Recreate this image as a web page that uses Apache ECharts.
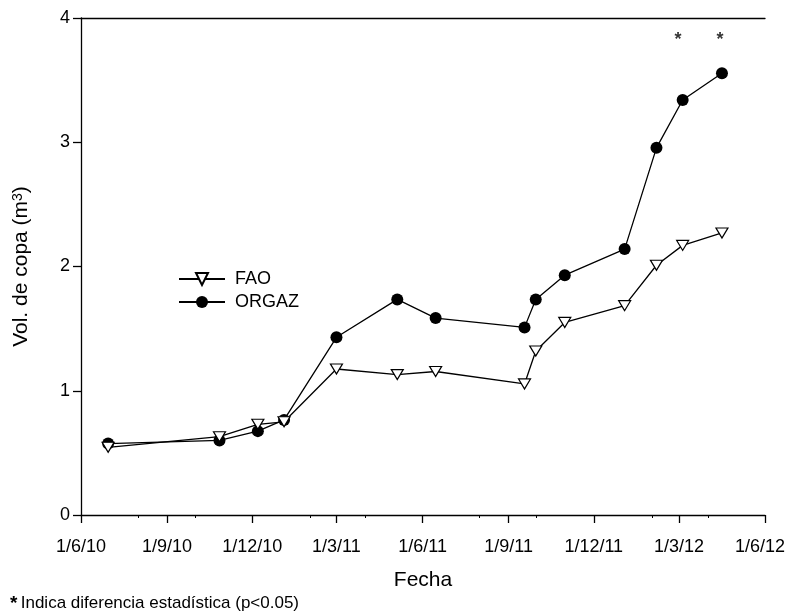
<!DOCTYPE html>
<html>
<head>
<meta charset="utf-8">
<script src="https://cdn.jsdelivr.net/npm/echarts@6/dist/echarts.min.js"></script>
<style>html,body{margin:0;padding:0;background:#fff}#c{width:788px;height:616px}</style>
</head>
<body>
<div id="c"></div>
<script>
// ---- data ----
const dates = ['2010-06-30','2010-10-27','2010-12-07','2011-01-04','2011-03-01','2011-05-05','2011-06-15','2011-09-18','2011-09-30','2011-10-31','2012-01-03','2012-02-06','2012-03-05','2012-04-16'];
const fao   = [0.545,0.63,0.73,0.75,1.175,1.13,1.155,1.055,1.32,1.55,1.685,2.01,2.17,2.27];
const orgaz = [0.575,0.60,0.675,0.765,1.43,1.735,1.585,1.51,1.735,1.93,2.14,2.955,3.34,3.555];
const xTickDates = ['2010-06-01','2010-09-01','2010-12-01','2011-03-01','2011-06-01','2011-09-01','2011-12-01','2012-03-01','2012-06-01'];
const xMinorDates = ['2010-08-01','2010-10-01','2011-02-01','2011-04-01','2011-08-01','2011-10-01','2012-02-01','2012-04-01'];
const yTicks = [0,1,2,3,4];
const sigDates = ['2012-02-29','2012-04-14'];
const sigValues = [3.82,3.82];

const t = s => new Date(s + 'T00:00:00Z').getTime();
const xMin = t(xTickDates[0]), xMax = t(xTickDates[xTickDates.length-1]);
const fmt = v => {
  const d = new Date(v);
  const s = d.getUTCDate() + '/' + (d.getUTCMonth()+1) + '/' + String(d.getUTCFullYear()).slice(2);
  return v === xMax ? '{last|' + s + '}' : s;
};
const FONT = '"Liberation Sans", Arial, sans-serif';

const chart = echarts.init(document.getElementById('c'), null, {renderer:'canvas'});
chart.setOption({
  animation:false,
  backgroundColor:'#fff',
  textStyle:{fontFamily:FONT, color:'#000'},
  grid:{left:81, right:23, top:18, bottom:101, containLabel:false, outerBoundsMode:'none'},
  legend:{
    data:['FAO','ORGAZ'], orient:'vertical', left:178, top:270, padding:0,
    itemWidth:46, itemHeight:15, itemGap:5,
    textStyle:{fontFamily:FONT, fontSize:18, color:'#000', padding:[0,0,0,5]}
  },
  xAxis:[
    {
      type:'value', min:xMin, max:xMax, position:'bottom',
      name:'Fecha', nameLocation:'middle', nameGap:55,
      nameTextStyle:{fontFamily:FONT, fontSize:21, color:'#000'},
      axisLine:{show:true, onZero:false, lineStyle:{color:'#000', width:1.3}},
      axisTick:{show:true, inside:false, length:8, customValues:xTickDates.map(t), lineStyle:{color:'#000', width:1.3}},
      axisLabel:{customValues:xTickDates.map(t), formatter:fmt, margin:23, fontFamily:FONT, fontSize:18, color:'#000',
        rich:{last:{fontFamily:FONT, fontSize:18, color:'#000', padding:[0,10,0,0]}}},
      splitLine:{show:false}
    },
    {
      type:'value', min:xMin, max:xMax, position:'bottom',
      axisLine:{show:false},
      axisTick:{show:true, length:3, customValues:xMinorDates.map(t), lineStyle:{color:'#000', width:1}},
      axisLabel:{show:false}, splitLine:{show:false}
    },
    {
      type:'value', min:xMin, max:xMax, position:'top',
      axisLine:{show:true, lineStyle:{color:'#000', width:1.3}},
      axisTick:{show:false}, axisLabel:{show:false}, splitLine:{show:false}
    }
  ],
  yAxis:{
    type:'value', min:yTicks[0], max:yTicks[yTicks.length-1], interval:1,
    name:'{n|Vol. de copa (m}{s|3}{n|)}', nameLocation:'middle', nameGap:49, nameRotate:90,
    nameTextStyle:{fontFamily:FONT, color:'#000', rich:{
      n:{fontFamily:FONT, fontSize:21, color:'#000'},
      s:{fontFamily:FONT, fontSize:14, color:'#000', verticalAlign:'top'}
    }},
    axisLine:{show:true, lineStyle:{color:'#000', width:1.3}},
    axisTick:{show:true, length:8, lineStyle:{color:'#000', width:1.3}},
    axisLabel:{margin:11, fontFamily:FONT, fontSize:18, color:'#000'},
    splitLine:{show:false}
  },
  series:[
    {
      name:'FAO', type:'line', xAxisIndex:0,
      data:dates.map((d,i)=>[t(d), fao[i]]),
      symbol:'triangle', symbolRotate:180, symbolSize:[12,10],
      itemStyle:{color:'#fff', borderColor:'#000', borderWidth:1.2},
      lineStyle:{color:'#000', width:1.3}, z:3
    },
    {
      name:'ORGAZ', type:'line', xAxisIndex:0,
      data:dates.map((d,i)=>[t(d), orgaz[i]]),
      symbol:'circle', symbolSize:12,
      itemStyle:{color:'#000', borderColor:'#000', borderWidth:0},
      lineStyle:{color:'#000', width:1.3}, z:2
    },
    {
      name:'sig', type:'scatter', xAxisIndex:0,
      data:sigDates.map((d,i)=>[t(d), sigValues[i]]),
      symbolSize:1, itemStyle:{color:'rgba(0,0,0,0)'},
      label:{show:true, position:'inside', formatter:'*', fontFamily:FONT, fontSize:18, fontWeight:'bold', color:'#000'},
      silent:true
    }
  ],
  graphic:[
    {type:'text', left:10, top:594, style:{
      text:'{a|*} {b|Indica diferencia estadística (p<0.05)}',
      rich:{
        a:{fontFamily:FONT, fontSize:19, fontWeight:'bold', fill:'#000'},
        b:{fontFamily:FONT, fontSize:17, fill:'#000'}
      }
    }}
  ]
});
</script>
</body>
</html>
